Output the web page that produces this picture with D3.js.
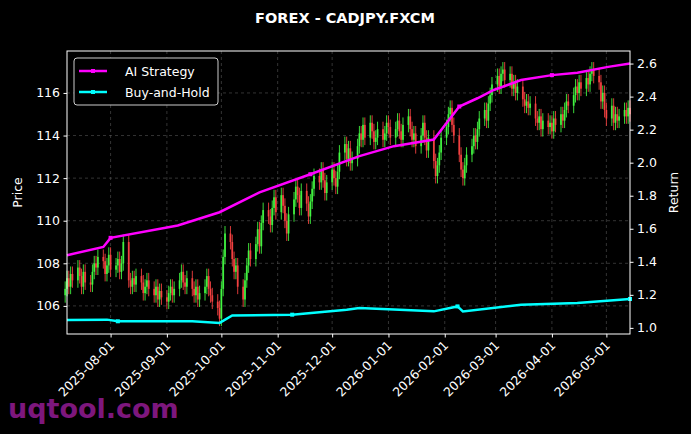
<!DOCTYPE html>
<html>
<head>
<meta charset="utf-8">
<script src="https://cdn.jsdelivr.net/npm/d3@7"></script>
<style>
  body { margin: 0; background: #000; }
  text { font-family: "DejaVu Sans", sans-serif; }
</style>
</head>
<body>
<svg id="chart" width="691" height="434"></svg>
<script>
// daily closes, one per weekday starting 2025-07-07
var firstDay = '2025-07-07';
var closes = [
  106.8, 107.3, 106.9, 107.5, 107.2,
  107.8, 107.4, 106.9, 107.6, 107.1,
  107.0, 107.6, 108.0, 107.8, 108.3,
  108.1, 107.5, 107.9, 108.4, 107.7,
  107.9, 108.2, 107.6, 108.0, 109.0,
  107.2, 106.9, 107.3, 107.0, 107.4,
  107.1, 106.6, 106.9, 107.2, 106.8,
  106.5, 106.9, 106.3, 106.7, 106.4,
  106.2, 106.6, 106.9, 106.5, 106.8,
  107.2, 107.6, 107.1, 106.9, 107.3,
  106.8, 106.5, 106.9, 106.3, 106.6,
  106.9, 107.4, 106.8, 106.5, 106.2,
  105.9, 105.4, 106.8, 108.3, 109.4,
  109.0, 108.2, 107.6, 107.9, 106.9,
  106.3, 107.2, 107.9, 108.6, 108.2,
  108.9, 109.6, 108.8, 109.9, 110.5,
  110.2, 109.8, 110.6, 111.1, 110.4,
  111.2, 110.7, 110.0, 109.4, 110.3,
  111.0, 111.6, 111.2, 110.6, 111.4,
  110.8, 110.2, 110.9, 111.5, 112.1,
  111.8, 112.4, 111.9, 111.3, 111.8,
  112.4, 112.0, 111.6, 112.3, 113.2,
  113.6, 112.9, 113.4, 112.7, 112.9,
  113.5, 114.1, 113.8, 114.5, 113.9,
  114.6, 114.2, 113.7, 113.9, 114.3,
  113.8, 114.1, 114.6, 114.4, 113.9,
  114.3, 114.7, 114.2, 113.8, 114.5,
  114.9, 114.3, 113.8, 114.1, 113.5,
  114.0, 114.6, 113.9, 113.3, 113.9,
  112.8, 112.1, 112.6, 113.2, 113.9,
  114.4, 115.0, 115.3, 114.5, 114.0,
  113.1, 112.4, 112.0, 112.6, 113.1,
  113.5, 114.0, 113.7, 114.3, 114.8,
  115.2, 114.7, 115.5, 115.9, 116.4,
  116.8, 116.3, 116.9, 117.1, 116.6,
  116.9, 116.2, 116.5, 116.0, 116.3,
  115.7, 115.4, 115.6, 115.3, 115.5,
  114.8, 114.6, 114.9, 114.3, 114.7,
  114.4, 114.6, 114.2, 114.8, 114.5,
  115.0, 114.7, 115.2, 115.6, 115.4,
  115.9, 116.3, 116.0, 116.5, 116.2,
  116.7, 116.4, 116.9, 117.1, 116.8,
  116.5, 115.6, 116.0, 115.2, 114.8,
  115.4, 114.6, 115.0, 114.7, 114.9,
  115.2, 114.9, 115.3, 115.0
];
var firstOpen = 106.5;

var aiDates = ['2025-07-08','2025-07-28','2025-08-01','2025-09-07','2025-09-30','2025-10-22',
  '2025-11-19','2025-12-16','2026-01-04','2026-01-26','2026-02-09','2026-02-19','2026-02-28',
  '2026-03-15','2026-04-01','2026-04-15','2026-05-02','2026-05-14'];
var aiStrategy = [1.44, 1.49, 1.545, 1.62, 1.70, 1.82, 1.93, 2.04, 2.10, 2.14, 2.34, 2.39, 2.44,
  2.50, 2.53, 2.545, 2.58, 2.60];

var bhDates = ['2025-07-08','2025-07-30','2025-08-05','2025-09-15','2025-09-30','2025-10-07',
  '2025-11-09','2025-12-09','2025-12-16','2026-01-26','2026-02-08','2026-02-11','2026-03-15',
  '2026-04-15','2026-05-14'];
var buyHold = [1.048, 1.05, 1.04, 1.04, 1.03, 1.075, 1.08, 1.11, 1.12, 1.10, 1.13, 1.10, 1.14,
  1.15, 1.175];

var tickDates = ['2025-08-01','2025-09-01','2025-10-01','2025-11-01','2025-12-01','2026-01-01',
  '2026-02-01','2026-03-01','2026-04-01','2026-05-01'];
var priceTicks = [106, 108, 110, 112, 114, 116];
var returnTicks = [1.0, 1.2, 1.4, 1.6, 1.8, 2.0, 2.2, 2.4, 2.6];

var parse = d3.utcParse('%Y-%m-%d');
var fmt = d3.utcFormat('%Y-%m-%d');

var days = [];
var d = parse(firstDay);
while (days.length < closes.length) {
  if (d.getUTCDay() !== 0 && d.getUTCDay() !== 6) days.push(new Date(d));
  d = d3.utcDay.offset(d, 1);
}
var candles = closes.map(function(c, i) {
  var o = i === 0 ? firstOpen : closes[i - 1];
  return { date: days[i], open: o, close: c, high: Math.max(o, c) + 0.35, low: Math.min(o, c) - 0.35 };
});

var margin = { top: 51, right: 61, bottom: 100, left: 67 };
var width = 691 - margin.left - margin.right;
var height = 434 - margin.top - margin.bottom;

var svg = d3.select('#chart');
var g = svg.append('g').attr('transform', 'translate(' + margin.left + ',' + margin.top + ')');

var x = d3.scaleUtc().domain([parse('2025-07-08'), parse('2026-05-14')]).range([0, width]);
var yPrice = d3.scaleLinear().domain([104.68, 117.97]).range([height, 0]);
var yRet = d3.scaleLinear().domain([0.963, 2.676]).range([height, 0]);

// grid
g.selectAll('.vgrid').data(tickDates).enter().append('line')
  .attr('x1', function(t) { return x(parse(t)); }).attr('x2', function(t) { return x(parse(t)); })
  .attr('y1', 0).attr('y2', height)
  .attr('stroke', '#555').attr('stroke-dasharray', '3,3').attr('stroke-width', 0.6);
g.selectAll('.hgrid').data(priceTicks).enter().append('line')
  .attr('x1', 0).attr('x2', width)
  .attr('y1', function(t) { return yPrice(t); }).attr('y2', function(t) { return yPrice(t); })
  .attr('stroke', '#555').attr('stroke-dasharray', '3,3').attr('stroke-width', 0.6);

// candles
var cw = 1.8;
var cg = g.selectAll('.Candle').data(candles).enter().append('g').attr('class', 'Candle');
cg.append('line')
  .attr('x1', function(c) { return x(c.date); }).attr('x2', function(c) { return x(c.date); })
  .attr('y1', function(c) { return yPrice(c.high); }).attr('y2', function(c) { return yPrice(c.low); })
  .attr('stroke', function(c) { return c.close >= c.open ? '#44ff44' : '#ff4444'; })
  .attr('stroke-width', 1).attr('opacity', 0.85);
cg.append('rect')
  .attr('x', function(c) { return x(c.date) - cw / 2; }).attr('width', cw)
  .attr('y', function(c) { return yPrice(Math.max(c.open, c.close)); })
  .attr('height', function(c) { return Math.max(0.5, Math.abs(yPrice(c.open) - yPrice(c.close))); })
  .attr('fill', function(c) { return c.close >= c.open ? '#44ff44' : '#ff4444'; })
  .attr('opacity', 0.85);

// return lines
function drawSeries(dates, values, color) {
  var pts = values.map(function(v, i) { return { date: parse(dates[i]), v: v }; });
  g.append('path').datum(pts)
    .attr('fill', 'none').attr('stroke', color).attr('stroke-width', 2.5)
    .attr('d', d3.line().x(function(p) { return x(p.date); }).y(function(p) { return yRet(p.v); }));
  g.selectAll(null).data(pts.filter(function(p, i) { return i % 4 === 2; })).enter().append('rect')
    .attr('x', function(p) { return x(p.date) - 2; }).attr('y', function(p) { return yRet(p.v) - 2; })
    .attr('width', 4).attr('height', 4).attr('fill', color);
}
drawSeries(aiDates, aiStrategy, '#ff00ff');
drawSeries(bhDates, buyHold, '#00ffff');

// frame
g.append('rect').attr('width', width).attr('height', height)
  .attr('fill', 'none').attr('stroke', '#fff').attr('stroke-width', 1);

// axes
var leftAxis = g.append('g').call(d3.axisLeft(yPrice).tickValues(priceTicks).tickSizeOuter(0).tickSize(3.5).tickPadding(3.5));
var rightAxis = g.append('g').attr('transform', 'translate(' + width + ',0)')
  .call(d3.axisRight(yRet).tickValues(returnTicks).tickFormat(d3.format('.1f')).tickSizeOuter(0).tickSize(3.5).tickPadding(3.5));
var bottomAxis = g.append('g').attr('transform', 'translate(0,' + height + ')')
  .call(d3.axisBottom(x).tickValues(tickDates.map(parse)).tickFormat(fmt).tickSizeOuter(0).tickSize(3.5));
[leftAxis, rightAxis, bottomAxis].forEach(function(a) {
  a.select('.domain').remove();
  a.selectAll('line').attr('stroke', '#fff');
  a.selectAll('text').attr('fill', '#fff').attr('font-size', 12.5);
});
bottomAxis.selectAll('text')
  .attr('text-anchor', 'end').attr('dy', null).attr('y', 0)
  .attr('transform', 'translate(4,12) rotate(-45)');

// axis titles
svg.append('text').attr('transform', 'translate(22,' + (margin.top + height / 2) + ') rotate(-90)')
  .attr('text-anchor', 'middle').attr('fill', '#fff').attr('font-size', 12.5).text('Price');
svg.append('text').attr('transform', 'translate(678,' + (margin.top + height / 2) + ') rotate(-90)')
  .attr('text-anchor', 'middle').attr('fill', '#fff').attr('font-size', 12.5).text('Return');

// title
svg.append('text').attr('x', 345).attr('y', 23).attr('text-anchor', 'middle')
  .attr('fill', '#fff').attr('font-size', 14.5).attr('font-weight', 'bold').text('FOREX - CADJPY.FXCM');

// legend
var lg = g.append('g').attr('transform', 'translate(7,7)');
lg.append('rect').attr('width', 144).attr('height', 47).attr('rx', 3)
  .attr('fill', '#000').attr('stroke', '#ccc').attr('stroke-width', 1);
[['AI Strategy', '#ff00ff'], ['Buy-and-Hold', '#00ffff']].forEach(function(it, i) {
  var yy = 13 + i * 21;
  lg.append('line').attr('x1', 5).attr('x2', 33).attr('y1', yy).attr('y2', yy)
    .attr('stroke', it[1]).attr('stroke-width', 2.5);
  lg.append('rect').attr('x', 17).attr('y', yy - 2).attr('width', 4).attr('height', 4).attr('fill', it[1]);
  lg.append('text').attr('x', 51).attr('y', yy + 4.5).attr('fill', '#fff').attr('font-size', 12.5).text(it[0]);
});

// watermark
svg.append('text').attr('x', 8).attr('y', 418).attr('fill', '#8b1a8b').attr('opacity', 0.9)
  .attr('font-size', 27).attr('font-weight', 'bold').text('uqtool.com');
</script>
</body>
</html>
